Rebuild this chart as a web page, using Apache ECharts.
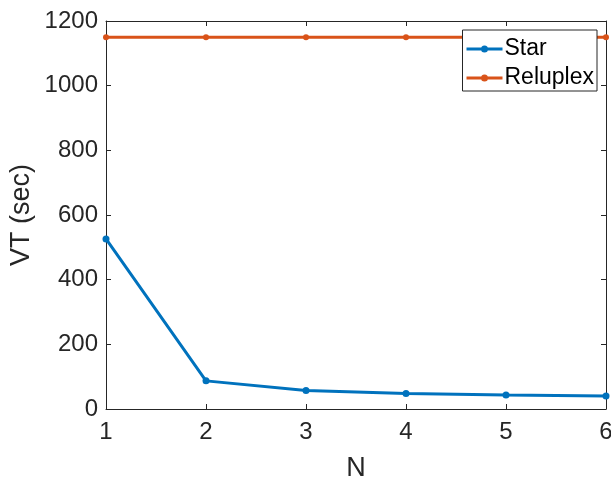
<!DOCTYPE html>
<html><head><meta charset="utf-8">
<script src="https://cdn.jsdelivr.net/npm/echarts@6/dist/echarts.min.js"></script>
<style>html,body{margin:0;padding:0;background:#fff}#c{width:611px;height:478px}</style>
</head><body><div id="c"></div>
<script>
const nValues = [1, 2, 3, 4, 5, 6];
const starValues = [526, 87, 57, 48, 43, 40];
const reluplexValues = [1150, 1150, 1150, 1150, 1150, 1150];
const yTicks = [0, 200, 400, 600, 800, 1000, 1200];

const font = 'Liberation Sans, Arial, Helvetica, sans-serif';
const axisColor = '#262626';
const chart = echarts.init(document.getElementById('c'), null, {renderer: 'canvas'});
const pair = (xs, ys) => xs.map((x, i) => [x, ys[i]]);
const legendIcon = 'path://M0,2.5 L36,2.5 L36,5.5 L0,5.5 Z M21.5,4 A3.5,3.5 0 1,1 14.5,4 A3.5,3.5 0 1,1 21.5,4 Z';
chart.setOption({
  animation: false,
  backgroundColor: '#fff',
  grid: {left: 106, right: 5, top: 21, bottom: 69, containLabel: false, outerBoundsMode: 'none'},
  legend: {
    right: 14, top: 30, orient: 'vertical', itemWidth: 36, itemHeight: 8, itemGap: 3,
    padding: [6, 3, 0, 4], borderColor: axisColor, borderWidth: 1, backgroundColor: '#fff',
    textStyle: {fontFamily: font, fontSize: 23, lineHeight: 26, color: '#000', padding: [0, 0, 0, -3]},
    data: [{name: 'Star', icon: legendIcon}, {name: 'Reluplex', icon: legendIcon}]
  },
  xAxis: [{
    type: 'value', min: 1, max: 6, interval: 1,
    name: 'N', nameLocation: 'middle', nameGap: 46,
    nameTextStyle: {fontFamily: font, fontSize: 27, color: axisColor},
    axisLine: {onZero: false, lineStyle: {color: axisColor, width: 1}},
    axisTick: {inside: true, length: 5, lineStyle: {color: axisColor}},
    axisLabel: {fontFamily: font, fontSize: 24, color: axisColor, margin: 11},
    splitLine: {show: false}
  }, {
    type: 'value', position: 'top', min: 1, max: 6, interval: 1,
    axisLine: {onZero: false, lineStyle: {color: axisColor, width: 1}},
    axisTick: {inside: true, length: 5, lineStyle: {color: axisColor}},
    axisLabel: {show: false}, splitLine: {show: false}
  }],
  yAxis: [{
    type: 'value', min: yTicks[0], max: yTicks[yTicks.length - 1], interval: 200,
    name: 'VT (sec)', nameLocation: 'middle', nameGap: 71, nameMoveOverlap: false,
    nameTextStyle: {fontFamily: font, fontSize: 27, color: axisColor},
    axisLine: {show: true, onZero: false, lineStyle: {color: axisColor, width: 1}},
    axisTick: {show: true, inside: true, length: 5, lineStyle: {color: axisColor}},
    axisLabel: {fontFamily: font, fontSize: 24, color: axisColor, margin: 8, formatter: v => String(v)},
    splitLine: {show: false}
  }, {
    type: 'value', position: 'right', min: yTicks[0], max: yTicks[yTicks.length - 1], interval: 200,
    axisLine: {show: true, onZero: false, lineStyle: {color: axisColor, width: 1}},
    axisTick: {show: true, inside: true, length: 5, lineStyle: {color: axisColor}},
    axisLabel: {show: false}, splitLine: {show: false}
  }],
  series: [{
    name: 'Star', type: 'line', data: pair(nValues, starValues),
    color: '#0072BD', lineStyle: {width: 3, color: '#0072BD'},
    symbol: 'circle', symbolSize: 7, itemStyle: {color: '#0072BD'}
  }, {
    name: 'Reluplex', type: 'line', data: pair(nValues, reluplexValues),
    color: '#D95319', lineStyle: {width: 3, color: '#D95319'},
    symbol: 'circle', symbolSize: 6, itemStyle: {color: '#D95319'}
  }]
});
</script></body></html>
